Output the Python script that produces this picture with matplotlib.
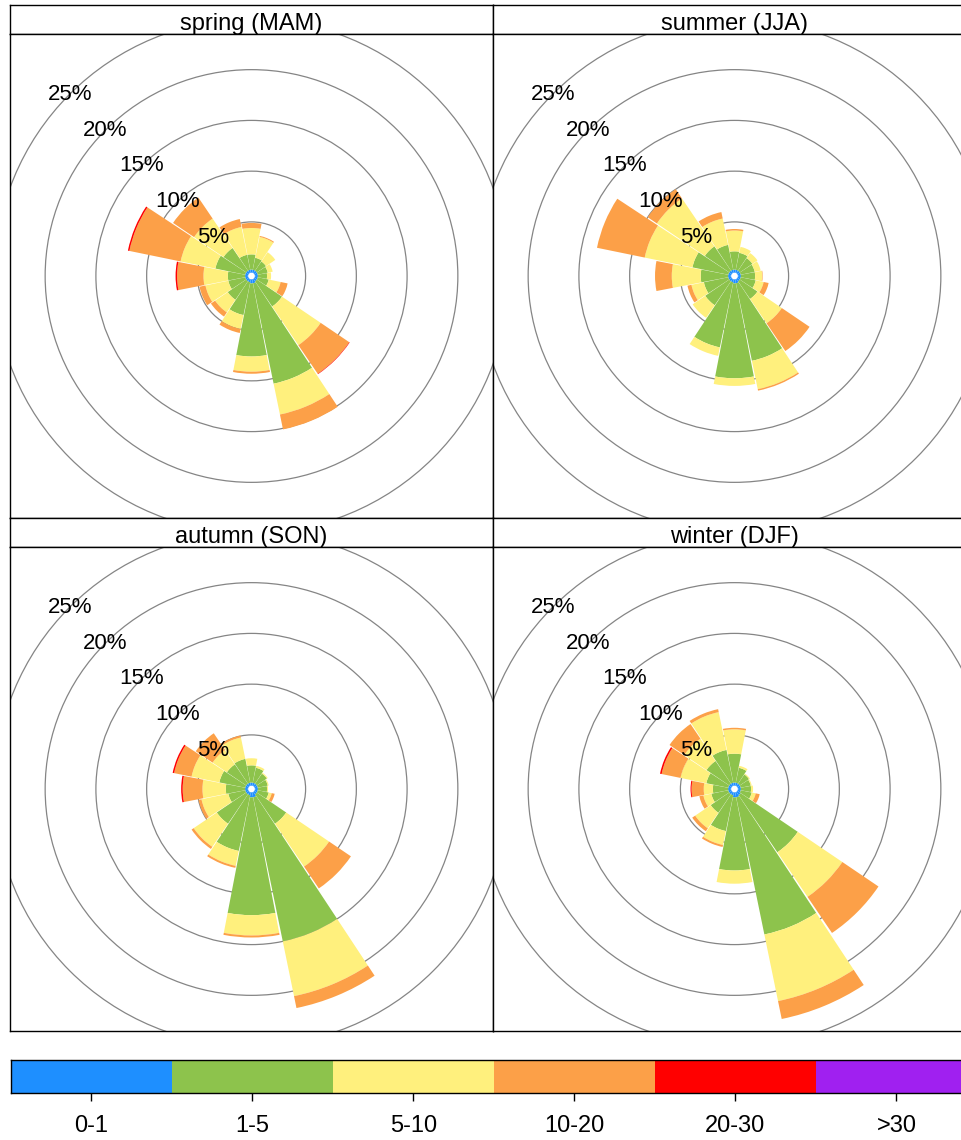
import numpy as np
import matplotlib.pyplot as plt
from matplotlib.patches import Wedge, Circle
from matplotlib.colors import ListedColormap

plt.rcParams['font.family'] = ['Liberation Sans', 'DejaVu Sans']

# 16 wind directions (compass bearings, degrees)
directions = ['N', 'NNE', 'NE', 'ENE', 'E', 'ESE', 'SE', 'SSE',
              'S', 'SSW', 'SW', 'WSW', 'W', 'WNW', 'NW', 'NNW']
bearings = np.arange(16) * 22.5

speed_bins = ['0-1', '1-5', '5-10', '10-20', '20-30', '>30']
bin_colours = ['#1E8FFF', '#8DC34C', '#FFF07D', '#FCA048', '#FF0000', '#A020F0']

rings = [5, 10, 15, 20, 25]

# frequency (%) per direction for each speed bin
spring_01 = [0.3, 0.3, 0.3, 0.3, 0.3, 0.3, 0.3, 0.4, 0.4, 0.3, 0.3, 0.3, 0.3, 0.3, 0.3, 0.3]
spring_15 = [1.5, 1.2, 1.1, 1.0, 0.9, 1.1, 3.0, 10.1, 7.2, 3.3, 2.2, 1.7, 1.7, 3.0, 2.7, 1.5]
spring_510 = [2.6, 2.1, 1.1, 0.5, 0.4, 1.2, 4.6, 3.1, 1.5, 1.4, 1.5, 2.3, 2.4, 3.5, 3.5, 2.8]
spring_1020 = [0.5, 0.1, 0.0, 0.0, 0.0, 0.7, 3.4, 1.5, 0.2, 0.4, 0.5, 0.6, 2.6, 5.15, 2.5, 0.8]
spring_2030 = [0, 0, 0, 0, 0, 0, 0.05, 0, 0, 0, 0, 0, 0.15, 0.15, 0, 0]
spring_30 = [0] * 16

summer_01 = [0.3, 0.3, 0.3, 0.3, 0.3, 0.3, 0.3, 0.4, 0.4, 0.3, 0.3, 0.3, 0.3, 0.3, 0.3, 0.3]
summer_15 = [1.8, 1.7, 1.5, 1.4, 1.4, 1.5, 2.1, 7.8, 9.35, 6.55, 2.85, 2.45, 2.7, 3.6, 2.9, 2.5]
summer_510 = [2.05, 0.6, 0.6, 0.6, 0.7, 0.8, 2.9, 2.85, 0.75, 0.85, 1.5, 1.25, 2.85, 4.8, 5.7, 2.65]
summer_1020 = [0.15, 0, 0, 0, 0.05, 0.5, 3.3, 0.15, 0, 0, 0, 0.4, 1.65, 4.8, 1.1, 0.65]
summer_2030 = [0] * 16
summer_30 = [0] * 16

autumn_01 = [0.3, 0.3, 0.3, 0.3, 0.3, 0.3, 0.3, 0.5, 0.5, 0.3, 0.3, 0.3, 0.3, 0.3, 0.3, 0.3]
autumn_15 = [1.7, 1.5, 1.2, 1.0, 0.9, 1.1, 3.5, 14.5, 11.6, 5.6, 3.5, 1.7, 1.9, 2.6, 2.3, 2.4]
autumn_510 = [0.7, 0.2, 0.1, 0.1, 0.1, 0.3, 5.1, 5.5, 2.0, 1.5, 2.75, 2.7, 2.3, 2.8, 1.7, 2.15]
autumn_1020 = [0, 0, 0, 0, 0, 0.3, 2.6, 1.2, 0.2, 0.2, 0.25, 0.3, 1.95, 1.75, 2.0, 0.2]
autumn_2030 = [0, 0, 0, 0, 0, 0, 0, 0, 0, 0, 0, 0, 0.15, 0.15, 0, 0]
autumn_30 = [0] * 16

winter_01 = [0.3, 0.3, 0.3, 0.3, 0.3, 0.3, 0.4, 0.5, 0.5, 0.3, 0.3, 0.3, 0.3, 0.3, 0.3, 0.3]
winter_15 = [2.85, 1.5, 1.1, 1.0, 1.0, 1.1, 6.8, 13.8, 7.2, 3.6, 2.2, 1.7, 1.5, 2.2, 2.7, 3.3]
winter_510 = [2.4, 0.2, 0.1, 0.1, 0.2, 0.4, 5.3, 6.7, 1.3, 1.4, 1.85, 0.8, 0.9, 2.6, 2.65, 3.8]
winter_1020 = [0.15, 0, 0, 0, 0, 0.4, 4.3, 1.8, 0, 0.2, 0.35, 0.4, 1.2, 1.9, 1.75, 0.3]
winter_2030 = [0, 0, 0, 0, 0, 0, 0, 0, 0, 0, 0, 0, 0.1, 0.16, 0, 0]
winter_30 = [0] * 16

seasons = [
    ('spring (MAM)', [spring_01, spring_15, spring_510, spring_1020, spring_2030, spring_30]),
    ('summer (JJA)', [summer_01, summer_15, summer_510, summer_1020, summer_2030, summer_30]),
    ('autumn (SON)', [autumn_01, autumn_15, autumn_510, autumn_1020, autumn_2030, autumn_30]),
    ('winter (DJF)', [winter_01, winter_15, winter_510, winter_1020, winter_2030, winter_30]),
]

W, H = 961, 1140
fig = plt.figure(figsize=(W / 100, H / 100), dpi=100)

hole = 0.33        # small white hole in the middle
half = 10.9        # half width of a paddle in degrees (leaves a thin gap)
px_per_pct = 10.15
panel_w, panel_h = 483, 484
strip_h = 29
lefts = [10, 493]
tops = [5, 518]


def draw_rose(ax, freqs):
    base = np.zeros(16)
    for k, f in enumerate(freqs):
        f = np.asarray(f, dtype=float)
        for b, lo, val in zip(bearings, base, f):
            if val <= 0:
                continue
            ax.add_patch(Wedge((0, 0), hole + lo + val, 90 - b - half, 90 - b + half,
                               width=val, facecolor=bin_colours[k], edgecolor='none', zorder=3))
        base = base + f
    for pct in rings:
        r = hole + pct
        ax.add_patch(Circle((0, 0), r, fill=False, edgecolor='#858585', lw=0.9, zorder=1))
        ang = np.deg2rad(135)
        ax.text(r * np.cos(ang), r * np.sin(ang), f'{pct}%', ha='center', va='center',
                fontsize=16, zorder=5)


for i, (title, freqs) in enumerate(seasons):
    row, col = divmod(i, 2)
    x0 = lefts[col]
    y0 = tops[row]
    # strip with the season name
    sax = fig.add_axes([x0 / W, 1 - (y0 + strip_h) / H, panel_w / W, strip_h / H])
    sax.set_xticks([])
    sax.set_yticks([])
    for s in sax.spines.values():
        s.set_linewidth(1.0)
    sax.text(0.5, 0.14, title, ha='center', va='baseline', fontsize=17, transform=sax.transAxes)

    ax = fig.add_axes([x0 / W, 1 - (y0 + strip_h + panel_h) / H, panel_w / W, panel_h / H])
    draw_rose(ax, freqs)
    hx = panel_w / 2 / px_per_pct
    hy = panel_h / 2 / px_per_pct
    ax.set_xlim(-hx, hx)
    ax.set_ylim(-hy, hy)
    ax.set_xticks([])
    ax.set_yticks([])
    for s in ax.spines.values():
        s.set_linewidth(1.0)

# colour key at the bottom
seg = 161
kax = fig.add_axes([11 / W, 1 - 1093 / H, 6 * seg / W, 33 / H])
kax.imshow(np.arange(6).reshape(1, -1), cmap=ListedColormap(bin_colours), aspect='auto',
           extent=[0, 6, 0, 1], interpolation='nearest')
kax.set_yticks([])
kax.set_xticks(np.arange(6) + 0.5)
kax.set_xticklabels(speed_bins, fontsize=17)
kax.tick_params(axis='x', length=6, width=1.0, pad=10)
for s in kax.spines.values():
    s.set_linewidth(1.0)

fig.savefig('out.png', dpi=100)
